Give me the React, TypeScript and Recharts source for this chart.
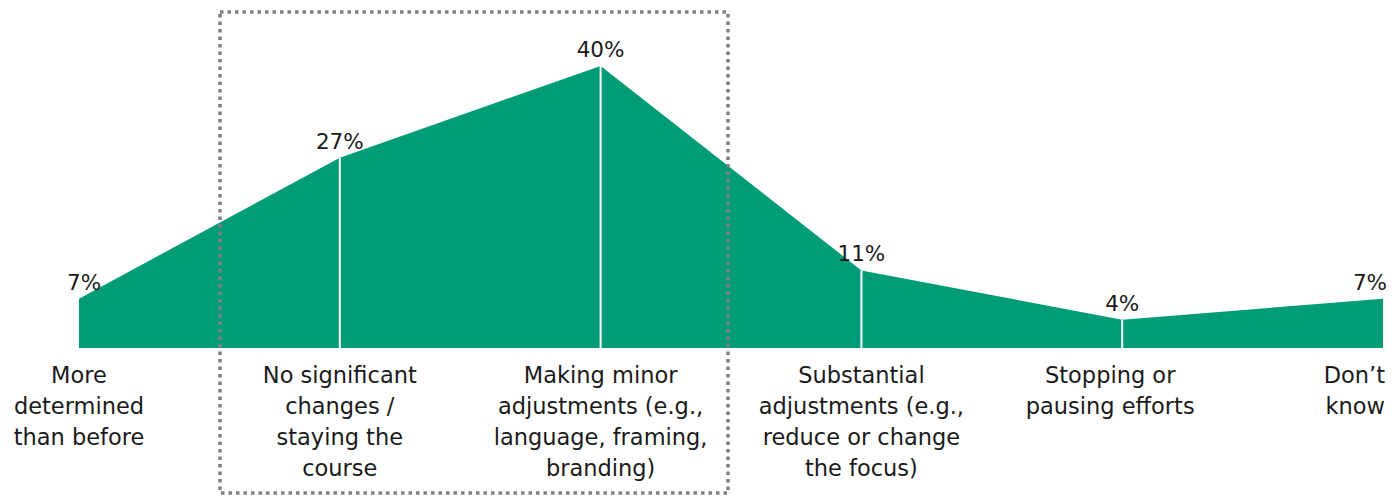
import { Area, AreaChart, ReferenceLine, XAxis, YAxis } from 'recharts'

// categories, one entry per x position, split into the lines shown under the axis
const CATEGORIES = [
  ['More', 'determined', 'than before'],
  ['No significant', 'changes /', 'staying the', 'course'],
  ['Making minor', 'adjustments (e.g.,', 'language, framing,', 'branding)'],
  ['Substantial', 'adjustments (e.g.,', 'reduce or change', 'the focus)'],
  ['Stopping or', 'pausing efforts'],
  ['Don’t', 'know'],
]
const SHARES = [7, 27, 40, 11, 4, 7]
const Y_MAX = 40

const GREEN = '#009b77'
const FONT = '"DejaVu Sans", sans-serif'

const rows = CATEGORIES.map((lines, i) => ({ cat: lines.join(' '), value: SHARES[i] }))
const last = rows.length - 1

function WrapTick({ x, y, payload, index }: any) {
  const lines = CATEGORIES[index] ?? [payload.value]
  const anchor = index === last ? 'end' : 'middle'
  let tx = x
  if (index === last) tx = x + 2
  if (index === last - 1) tx = x - 12
  return (
    <text x={tx} y={y + 33} textAnchor={anchor} fontFamily={FONT} fontSize={22.5} fill="#1a1a1a">
      {lines.map((l, i) => (
        <tspan key={i} x={tx} dy={i === 0 ? 0 : 31}>{l}</tspan>
      ))}
    </text>
  )
}

function ValueLabel({ x, y, value, index }: any) {
  let anchor = 'middle'
  let tx = x
  if (index === 0) tx = x + 5
  if (index === last) { anchor = 'end'; tx = x + 4 }
  return (
    <text x={tx} y={y - 9} textAnchor={anchor} fontFamily={FONT} fontSize={21.5} fill="#1a1a1a">
      {value}%
    </text>
  )
}

export default function App() {
  return (
    <div style={{ position: 'absolute', left: 0, top: 0, width: 1400, height: 497, background: '#fff' }}>
      <AreaChart width={1400} height={497} data={rows} margin={{ top: 66, right: 17, left: 79, bottom: 0 }}>
        <XAxis dataKey="cat" height={149} axisLine={false} tickLine={false} tickSize={0}
          interval={0} tick={<WrapTick />} />
        <YAxis hide domain={[0, Y_MAX]} />
        <Area type="linear" dataKey="value" stroke="none" fill={GREEN} fillOpacity={1}
          isAnimationActive={false} label={<ValueLabel />} />
        {rows.slice(1, last).map((r) => (
          <ReferenceLine key={r.cat} segment={[{ x: r.cat, y: 0 }, { x: r.cat, y: r.value }]}
            stroke="#fff" strokeWidth={2} />
        ))}
      </AreaChart>
      {/* dotted highlight box around the two middle answers */}
      <svg width={1400} height={497} style={{ position: 'absolute', left: 0, top: 0, pointerEvents: 'none' }}>
        <rect x={220} y={12} width={508} height={481} fill="none" stroke="#808080"
          strokeWidth={3.5} strokeDasharray="3.5 4" />
      </svg>
    </div>
  )
}
